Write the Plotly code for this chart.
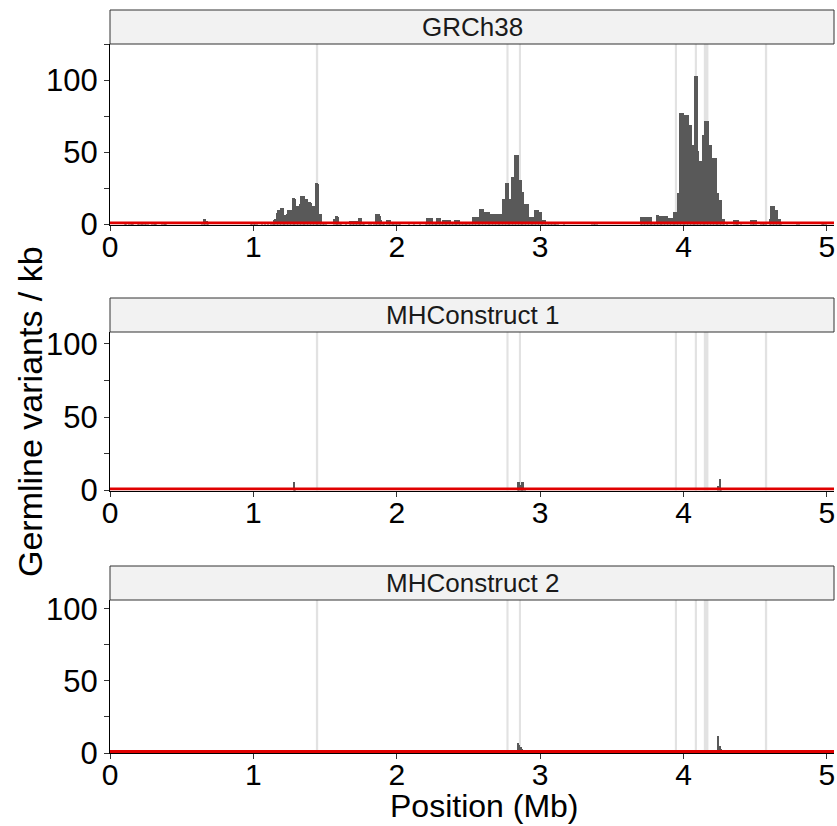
import plotly.graph_objects as go

# ---- data -----------------------------------------------------------------
# Germline variant density in 10 kb windows (window start in kb, variants / kb)
grch38_start_kb = [
    100, 110, 130, 140, 150, 160, 190, 200, 210, 220, 230, 240, 250, 260, 290, 300, 310, 320,
    360, 370, 380, 390, 640, 650, 660, 670, 680, 980, 990, 1000, 1010, 1020,
    1060, 1080, 1100, 1120, 1130, 1140, 1150, 1160, 1170, 1180, 1190, 1200, 1210, 1220, 1230,
    1240, 1250, 1260, 1270, 1280, 1290, 1300, 1310, 1320, 1330, 1340, 1350, 1360, 1370, 1380,
    1390, 1400, 1410, 1420, 1430, 1440, 1450, 1460, 1470, 1480, 1490, 1500,
    1560, 1570, 1580, 1590, 1600, 1610, 1640, 1670, 1680, 1690, 1700, 1710, 1720, 1730, 1740,
    1750, 1760, 1770, 1800, 1820, 1840, 1850, 1860, 1870, 1880, 1890, 1900, 1910, 1930, 1940,
    1950, 1960, 1970, 1980, 1990, 2000, 2010, 2020, 2080, 2120, 2160, 2200, 2210, 2220, 2230,
    2240, 2250, 2260, 2270, 2280, 2290, 2300, 2310, 2320, 2330, 2340, 2350, 2360, 2370, 2380,
    2390, 2400, 2410, 2420, 2430, 2440, 2450, 2460, 2470, 2480, 2490, 2500, 2510, 2520,
    2530, 2540, 2550, 2560, 2570, 2580, 2590, 2600, 2610, 2620, 2630, 2640, 2650, 2660, 2670,
    2680, 2690, 2700, 2710, 2720, 2730, 2740, 2750, 2760, 2770, 2780, 2790, 2800, 2810, 2820,
    2830, 2840, 2850, 2860, 2870, 2880, 2890, 2900, 2910, 2920, 2930, 2940, 2950, 2960, 2970,
    2980, 2990, 3000, 3010, 3020, 3030, 3040, 3050, 3060, 3070, 3080, 3090, 3100, 3110, 3120,
    3160, 3360, 3370, 3380, 3390,
    3700, 3710, 3720, 3730, 3740, 3750, 3760, 3770, 3780, 3790, 3800, 3810, 3820, 3830, 3840,
    3850, 3860, 3870, 3880, 3890, 3900, 3910, 3920, 3930, 3940, 3950, 3960, 3970, 3980, 3990,
    4000, 4010, 4020, 4030, 4040, 4050, 4060, 4070, 4080, 4090, 4100, 4110, 4120, 4130, 4140,
    4150, 4160, 4170, 4180, 4190, 4200, 4210, 4220, 4230, 4240, 4250, 4260, 4270, 4280,
    4300, 4350, 4360, 4370, 4380, 4400, 4470, 4480, 4490, 4500, 4540, 4550, 4560, 4570,
    4600, 4610, 4620, 4630, 4640, 4650, 4660, 4670, 4680, 4790, 4800, 4960, 4970, 4980, 4990,
]
grch38_density = [
    1.5, 1, 1.8, 1.5, 1.8, 1.2, 1.5, 1.8, 1.5, 1.8, 1.2, 1.5, 1.8, 1.2, 1.5, 1.8, 1.5, 1.2,
    1.5, 1.8, 1.5, 1.2, 1.5, 3.5, 3.5, 2.5, 1.2, 1.5, 2, 2, 1.5, 1.2,
    0.8, 0.8, 1, 1.2, 2, 3, 3.5, 8, 9.7, 10, 11.3, 11.3, 6.7, 6.7, 7,
    9.7, 9.7, 10, 18.5, 18.5, 18, 12.5, 12.5, 14, 20, 20, 19.5, 17.8, 17.8, 15.5,
    15.5, 15, 13, 13, 29, 29, 28, 7.4, 7, 1.6, 1.6, 1,
    4, 6, 6, 5, 1.5, 1.2, 1.5, 2.3, 2.3, 2.5, 2.3, 2.3, 2.5, 4.6, 4.6,
    4.6, 1.5, 1, 1, 1.5, 2, 7, 7, 7, 6, 3, 1.5, 1.5, 2.8, 2.8,
    2.8, 1.6, 1.6, 1.6, 1.6, 1.6, 1.2, 1.2, 0.8, 0.8, 0.8, 1.2, 4.6, 4.6, 4.6,
    4.4, 1.5, 1.5, 1.5, 4.4, 4.4, 4.4, 1.6, 2.8, 2.8, 2.8, 2.8, 2.8, 2.8, 1.6,
    1.6, 3.2, 3.2, 3.2, 3.2, 1, 1, 1, 1, 1, 1, 1, 1, 1.5,
    5.5, 5.5, 5.5, 5.5, 5.5, 10.8, 10.8, 10.8, 9, 9, 9, 9, 7, 7, 7,
    7, 7, 7, 7, 7, 7, 17.8, 17.8, 28.6, 28.6, 17.8, 17.8, 33, 33, 48,
    48, 48, 30.5, 30.5, 22.4, 22.4, 14, 14, 14, 5.5, 5.5, 5.5, 5.5, 9.7, 9.7,
    9.7, 8.5, 8.5, 3.2, 3.2, 3.2, 1.6, 1.6, 1.6, 1.6, 1.6, 2, 2, 2, 2,
    0.8, 1.8, 1.8, 1.8, 1.8,
    5, 5, 5, 5, 5, 5, 5, 5, 1, 1, 1, 6.7, 6.7, 6, 6,
    6, 6, 6, 6, 4.4, 4.4, 4.4, 4.4, 8.6, 8.6, 8.6, 22, 77, 77, 77,
    70, 76, 76, 76, 69, 69, 55, 55, 103, 103, 51, 44, 44, 62, 62,
    72, 72, 72, 55, 55, 46, 46, 46, 22, 22, 17, 17, 4, 4,
    1, 3.2, 3.2, 3.2, 3.2, 1, 2.8, 2.8, 2.8, 2.8, 2, 2, 2, 2,
    4, 13, 13, 13, 9.7, 9.7, 4, 4, 1, 1, 1, 2, 2, 2, 2,
]

mhc1_start_kb = [1280, 1290, 2840, 2850, 2860, 2870, 2880, 2890, 4240, 4250, 4260]
mhc1_density = [5.5, 1, 5.5, 5.5, 3.5, 5.5, 5.5, 1, 3, 8, 2]

mhc2_start_kb = [1290, 1300, 2840, 2850, 2860, 2870, 2880, 2890, 4240, 4250, 4260, 4270]
mhc2_density = [1.5, 1.5, 7, 5.5, 4.5, 3, 2, 1, 12, 5, 3, 1.5]

panel_titles = ["GRCh38", "MHConstruct 1", "MHConstruct 2"]

# highlighted gene regions (Mb)
region_start = [1.436, 2.765, 2.852, 3.940, 4.079, 4.142, 4.568]
region_end = [1.452, 2.780, 2.867, 3.955, 4.094, 4.174, 4.584]

baseline_rate = 1.0          # genome-wide reference rate (variants / kb)
window_kb = 10

x_ticks = [0, 1, 2, 3, 4, 5]
y_ticks = [0, 25, 50, 75, 100, 125]
y_tick_text = ["0", "", "50", "", "100", ""]

# ---- layout geometry (pixels) ---------------------------------------------
W, H = 837, 826
PLOT_L, PLOT_R = 110, 834
# (strip top, plot top, plot bottom, y max)
panels_px = [
    (10, 44, 224.5, 125),
    (298, 332, 490.5, 108),
    (566, 600, 753, 106),
]

FONT = "Liberation Sans, Arial, sans-serif"
BAR_COLOR = "#595959"
Y_TICK_SIZE = 31
X_TICK_SIZE = 30
TITLE_SIZE = 32
STRIP_SIZE = 26

fig = go.Figure()

series = [
    (grch38_start_kb, grch38_density),
    (mhc1_start_kb, mhc1_density),
    (mhc2_start_kb, mhc2_density),
]

shapes = []
annotations = []


def py(px):
    return 1 - px / H


for i, ((starts, dens), (s_top, p_top, p_bot, ymax)) in enumerate(zip(series, panels_px)):
    n = "" if i == 0 else str(i + 1)
    xa, ya = "x" + n, "y" + n
    centers = [(s + window_kb / 2) / 1000 for s in starts]
    fig.add_trace(go.Bar(
        x=centers, y=dens, width=window_kb / 1000,
        marker=dict(color=BAR_COLOR, line=dict(width=0)),
        xaxis=xa, yaxis=ya, showlegend=False, hoverinfo="x+y",
    ))
    fig.add_trace(go.Scatter(
        x=[0, 5.05], y=[baseline_rate, baseline_rate], mode="lines",
        line=dict(color="#e00000", width=3),
        xaxis=xa, yaxis=ya, showlegend=False, hoverinfo="skip",
    ))

    dom_x = [PLOT_L / W, PLOT_R / W]
    dom_y = [py(p_bot), py(p_top)]
    tv = [v for v in y_ticks if v <= ymax]
    tt = y_tick_text[:len(tv)]
    fig.layout["xaxis" + n] = dict(
        domain=dom_x, range=[0, 5.05], anchor=ya, automargin=False,
        tickvals=x_ticks, ticktext=[str(t) for t in x_ticks],
        ticks="outside", ticklen=5, tickwidth=1.3, tickcolor="#333333",
        ticklabelstandoff=-10,
        showline=True, linecolor="#000000", linewidth=1.3,
        showgrid=False, zeroline=False,
        tickfont=dict(family=FONT, size=X_TICK_SIZE, color="#000000"),
    )
    fig.layout["yaxis" + n] = dict(
        domain=dom_y, range=[0, ymax], anchor=xa, automargin=False,
        tickvals=tv, ticktext=tt,
        ticks="outside", ticklen=5, tickwidth=1.3, tickcolor="#333333",
        showline=True, linecolor="#000000", linewidth=1.3,
        showgrid=False, zeroline=False,
        tickfont=dict(family=FONT, size=Y_TICK_SIZE, color="#000000"),
    )

    # highlighted regions behind the bars
    for x0, x1 in zip(region_start, region_end):
        shapes.append(dict(
            type="rect", xref=xa, yref=ya + " domain", x0=x0, x1=x1, y0=0, y1=1,
            fillcolor="#e2e2e2", line=dict(width=0), layer="below",
        ))

    # facet strip
    shapes.append(dict(
        type="rect", xref="paper", yref="paper",
        x0=PLOT_L / W, x1=PLOT_R / W, y0=py(p_top), y1=py(s_top),
        fillcolor="#f2f2f2", line=dict(color="#333333", width=1),
    ))
    annotations.append(dict(
        text=panel_titles[i], xref="paper", yref="paper",
        x=(PLOT_L + PLOT_R) / 2 / W, y=py((s_top + p_top) / 2),
        showarrow=False, xanchor="center", yanchor="middle",
        font=dict(family=FONT, size=STRIP_SIZE, color="#1a1a1a"),
    ))

annotations.append(dict(
    text="Germline variants / kb", xref="paper", yref="paper",
    x=30 / W, y=py(412), textangle=-90, showarrow=False,
    xanchor="center", yanchor="middle",
    font=dict(family=FONT, size=TITLE_SIZE + 2, color="#000000"),
))
annotations.append(dict(
    text="Position (Mb)", xref="paper", yref="paper",
    x=484 / W, y=py(806), showarrow=False,
    xanchor="center", yanchor="middle",
    font=dict(family=FONT, size=TITLE_SIZE, color="#000000"),
))

fig.update_layout(
    width=W, height=H,
    margin=dict(l=0, r=0, t=0, b=0, autoexpand=False),
    paper_bgcolor="#ffffff", plot_bgcolor="#ffffff",
    bargap=0, barmode="overlay",
    shapes=shapes, annotations=annotations,
    font=dict(family=FONT),
)

fig.write_html("out.html")
